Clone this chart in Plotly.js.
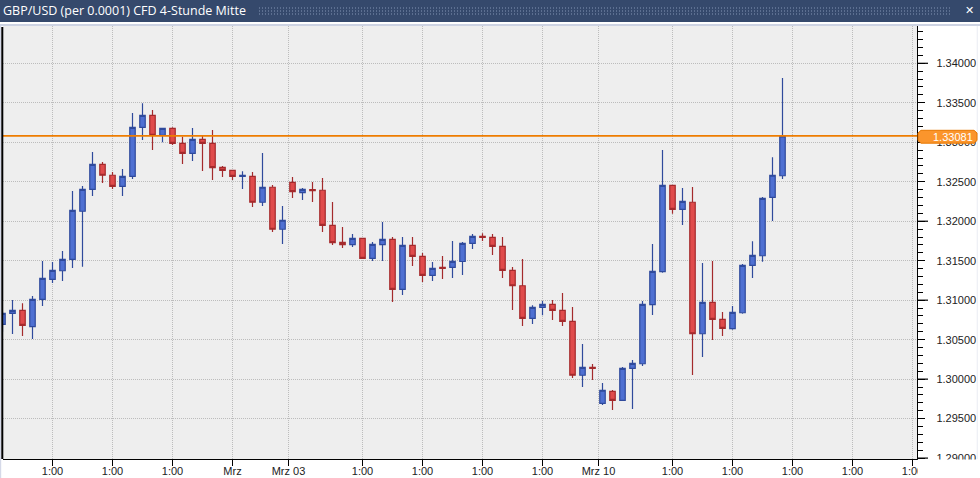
<!DOCTYPE html>
<html>
<head>
<meta charset="utf-8">
<script src="https://cdn.plot.ly/plotly-3.0.1.min.js"></script>
<style>html,body{margin:0;padding:0;background:#fff}#c{width:980px;height:478px}</style>
</head>
<body>
<div id="c"></div>
<script>
const chartTitle = "GBP/USD (per 0.0001) CFD 4-Stunde Mitte";
const currentPrice = 1.33081;
const open = [1.30694,1.30834,1.30872,1.30664,1.31011,1.31264,1.31373,1.31518,1.32126,1.32404,
1.32721,1.32582,1.32442,1.32569,1.33189,1.33341,1.33088,1.33177,1.32987,1.32860,
1.33037,1.32987,1.32683,1.32645,1.32569,1.32569,1.32240,1.32430,1.31898,1.32493,
1.32361,1.32399,1.32392,1.31948,1.31733,1.31703,1.31784,1.31530,1.31703,1.31771,
1.31138,1.31695,1.31556,1.31315,1.31416,1.31416,1.31490,1.31720,1.31809,1.31796,
1.31682,1.31378,1.31183,1.30770,1.30910,1.30948,1.30872,1.30732,1.30049,1.30150,
1.29694,1.29846,1.29732,1.30137,1.30195,1.30943,1.31361,1.32455,1.32151,1.32240,
1.30575,1.30973,1.30758,1.30639,1.30841,1.31442,1.31563,1.32303,1.32576];
const high = [1.30854,1.31002,1.30960,1.31053,1.31496,1.31483,1.31623,1.32383,1.32446,1.32877,
1.32750,1.32623,1.32661,1.33371,1.33493,1.33409,1.33181,1.33189,1.33070,1.33181,
1.33079,1.33155,1.32699,1.32649,1.32632,1.32623,1.32864,1.32459,1.32193,1.32560,
1.32421,1.32497,1.32547,1.32243,1.31927,1.31838,1.31784,1.31737,1.31990,1.31800,
1.31800,1.31800,1.31597,1.31483,1.31559,1.31749,1.31737,1.31838,1.31847,1.31838,
1.31800,1.31420,1.31521,1.30935,1.30989,1.31002,1.31091,1.30914,1.30445,1.30192,
1.29951,1.29862,1.30154,1.30242,1.30989,1.31711,1.32902,1.32455,1.32421,1.32433,
1.31471,1.31496,1.30850,1.30926,1.31458,1.31746,1.32307,1.32809,1.33814];
const low = [1.30601,1.30572,1.30546,1.30508,1.30926,1.31218,1.31243,1.31408,1.31424,1.32319,
1.32484,1.32408,1.32319,1.32535,1.33029,1.32902,1.32999,1.32965,1.32725,1.32763,
1.32636,1.32522,1.32560,1.32522,1.32408,1.32180,1.32193,1.31863,1.31711,1.32294,
1.32269,1.32243,1.31863,1.31699,1.31661,1.31673,1.31530,1.31496,1.31496,1.30977,
1.31066,1.31433,1.31230,1.31243,1.31268,1.31281,1.31319,1.31648,1.31749,1.31572,
1.31281,1.30876,1.30673,1.30698,1.30808,1.30749,1.30673,1.30014,1.29900,1.29989,
1.29672,1.29609,1.29732,1.29622,1.30166,1.30812,1.31348,1.32095,1.31952,1.30052,
1.30280,1.30496,1.30546,1.30626,1.30829,1.31281,1.31487,1.32003,1.32535];
const close = [1.30834,1.30872,1.30682,1.31011,1.31277,1.31378,1.31518,1.32138,1.32404,1.32721,
1.32582,1.32442,1.32569,1.33189,1.33341,1.33088,1.33177,1.32987,1.32860,1.33037,
1.32987,1.32678,1.32645,1.32569,1.32582,1.32240,1.32430,1.31898,1.32012,1.32374,
1.32404,1.32386,1.31948,1.31728,1.31703,1.31784,1.31530,1.31708,1.31771,1.31138,
1.31695,1.31556,1.31315,1.31404,1.31404,1.31492,1.31720,1.31809,1.31796,1.31682,
1.31378,1.31183,1.30770,1.30910,1.30948,1.30872,1.30732,1.30049,1.30150,1.30137,
1.29859,1.29732,1.30137,1.30200,1.30948,1.31366,1.32455,1.32151,1.32252,1.30575,
1.30973,1.30758,1.30644,1.30846,1.31442,1.31568,1.32290,1.32582,1.33081];
const xTickPositions = [5,11,17,23,28.6,36,42,48,54,59.6,67,73,79,85,91];
const xTickLabels = ["1:00","1:00","1:00","Mrz","Mrz 03","1:00","1:00","1:00","1:00","Mrz 10","1:00","1:00","1:00","1:00","1:00"];
const longTickPrices = [1.29,1.30,1.31,1.32,1.33,1.34];
const titleDotRows = [8,11,14];

const candleIndex = open.map((_, i) => i);
const W = 980, H = 478, L = 3, R = 917, T = 26, B = 459;
const px = x => (x - L) / (R - L);
const py = y => (B - y) / (B - T);
const rect = (x0, y0, x1, y1, fill) => ({type:'rect', xref:'paper', yref:'paper', layer:'above',
  x0:px(x0), x1:px(x1), y0:py(y1), y1:py(y0), fillcolor:fill, line:{width:0}});

const shapes = [
  rect(0, 0, W, 22, '#35496c'),
  rect(0, 24, W, 26, '#cdd3e3'),
  ...titleDotRows.map(y => ({type:'line', xref:'paper', yref:'paper', layer:'above',
    x0:px(259), x1:px(952), y0:py(y), y1:py(y), line:{color:'#8496b5', width:1, dash:'1px,2px'}})),
  {type:'line', xref:'paper', yref:'y', layer:'above', x0:0, x1:1, y0:currentPrice, y1:currentPrice,
    line:{color:'#ee7c00', width:1.6}},
  ...longTickPrices.map(p => ({type:'line', xref:'paper', yref:'y', layer:'above',
    x0:1, x1:px(928), y0:p, y1:p, line:{color:'#000', width:1.2}})),
  rect(917.8, 459.6, W, H, '#ffffff'),
  rect(0, 26, 1.2, H, '#d5d9e8'),
  rect(976.8, 26, 977.6, 459, '#e4e7f0'),
  {type:'line', xref:'paper', yref:'paper', layer:'above', x0:px(2.3), x1:px(2.3), y0:0, y1:py(27),
    line:{color:'#000', width:2}},
  {type:'path', xref:'paper', yref:'paper', layer:'above',
    path:'M'+[[921,130.3],[974,130.3],[977,133],[977,140.5],[974,143.2],[921,143.2],[918,140.5],[918,133]]
      .map(p => px(p[0])+','+py(p[1])).join(' L')+' Z',
    fillcolor:'#fb952c', line:{color:'#e67700', width:1}}
];

const data = [{
  type:'candlestick', x:candleIndex, open:open, high:high, low:low, close:close,
  whiskerwidth:0, hoverinfo:'skip', showlegend:false,
  increasing:{line:{color:'#2f4a9c', width:1.2}, fillcolor:'#4f70d2'},
  decreasing:{line:{color:'#a42a2c', width:1.2}, fillcolor:'#e04b4b'}
}];

const layout = {
  width:W, height:H, paper_bgcolor:'#ffffff', plot_bgcolor:'#eeeeee',
  margin:{l:L, r:W-R, t:T, b:H-B, pad:0},
  boxgap:0.22,
  showlegend:false, hovermode:false, dragmode:false,
  font:{family:'"Liberation Sans", Arial, sans-serif', size:11, color:'#222'},
  title:{text:chartTitle, x:3/W, xanchor:'left', y:1-11/H, yanchor:'middle',
    font:{family:'"Open Sans", sans-serif', size:12.5, color:'#ffffff'}},
  xaxis:{type:'linear', range:[0.05,91.45], rangeslider:{visible:false},
    tickmode:'array', tickvals:xTickPositions, ticktext:xTickLabels,
    ticks:'outside', ticklen:6, tickcolor:'#000', tickwidth:1, ticklabelstandoff:-4,
    showline:true, linecolor:'#000', linewidth:1.2, zeroline:false,
    showgrid:true, gridcolor:'#bcbcbc', griddash:'1px,1px', gridwidth:1,
    tickangle:0, tickfont:{size:11, color:'#222'}, automargin:false, fixedrange:true},
  yaxis:{side:'right', type:'linear', range:[1.289886,1.344724],
    tick0:1.29, dtick:0.005, tickformat:'.5f',
    ticks:'outside', ticklen:7, tickcolor:'#000', tickwidth:1, ticklabelstandoff:9,
    minor:{tick0:1.29, dtick:0.001, ticks:'outside', ticklen:5, tickcolor:'#000', tickwidth:1, showgrid:false},
    showline:true, linecolor:'#000', linewidth:1.2, zeroline:false,
    showgrid:true, gridcolor:'#bcbcbc', griddash:'1px,1px', gridwidth:1,
    tickfont:{size:11, color:'#222'}, automargin:false, fixedrange:true},
  shapes:shapes,
  annotations:[
    {xref:'paper', yref:'paper', x:px(974.5), y:py(136.7), xanchor:'right', yanchor:'middle',
      text:currentPrice.toFixed(5), showarrow:false, font:{size:11, color:'#ffffff'}},
    {xref:'paper', yref:'paper', x:px(969), y:py(10.5), xanchor:'center', yanchor:'middle',
      text:'✕', showarrow:false, font:{family:'"DejaVu Sans", sans-serif', size:11, color:'#ffffff'}}
  ]
};
Plotly.newPlot('c', data, layout, {displayModeBar:false, staticPlot:true});
</script>
</body>
</html>
